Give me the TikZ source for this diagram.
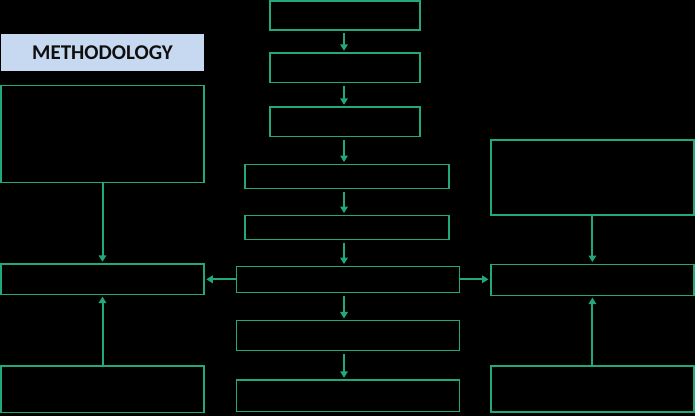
\documentclass[tikz,border=0pt]{standalone}
\usepackage{fontspec}
\setmainfont{Carlito}
\usetikzlibrary{arrows.meta}
\definecolor{flowgreen}{RGB}{34,168,124}
\definecolor{headblue}{RGB}{198,217,240}
\definecolor{headtext}{RGB}{15,15,15}
\tikzset{
  box/.style={draw=flowgreen, line width=1.5pt, rectangle, inner sep=0pt},
  head/.style={fill=headblue, rectangle, inner sep=0pt, text=headtext, font=\fontsize{21}{24}\selectfont\bfseries},
  arr/.style={draw=flowgreen, line width=2pt, -{Triangle[length=6.5pt,width=7.5pt]}, shorten <=2.5pt, shorten >=1.5pt},
}
\begin{document}
\begin{tikzpicture}[x=1pt,y=-1pt]
\fill[black] (0,0) rectangle (695,416);
\useasboundingbox (0,0) rectangle (695,416);
% central column
\node[box, minimum width=150pt, minimum height=29pt] (c1) at (345,15.5) {};
\node[box, minimum width=150pt, minimum height=29.5pt] (c2) at (345,67.8) {};
\node[box, minimum width=150pt, minimum height=29.5pt] (c3) at (345,121.8) {};
\node[box, minimum width=204pt, minimum height=24pt] (c4) at (347,176.3) {};
\node[box, minimum width=204pt, minimum height=24pt] (c5) at (347,227.3) {};
\node[box, minimum width=222.6pt, minimum height=26pt] (c6) at (348,279.3) {};
\node[box, minimum width=222.6pt, minimum height=29.6pt] (c7) at (348,335.5) {};
\node[box, minimum width=223pt, minimum height=31.3pt] (c8) at (348,395.7) {};
% left column
\node[head, minimum width=203pt, minimum height=37pt] (meth) at (102.5,52.7) {METHODOLOGY};
\node[box, minimum width=203pt, minimum height=96.6pt] (l1) at (102.5,134) {};
\node[box, minimum width=203pt, minimum height=30.3pt] (l2) at (102.5,279.2) {};
\node[box, minimum width=203pt, minimum height=46.3pt] (l3) at (102.5,389.2) {};
% right column
\node[box, minimum width=203.3pt, minimum height=75.3pt] (r1) at (592.4,177.4) {};
\node[box, minimum width=203.3pt, minimum height=31pt] (r2) at (592.4,279.8) {};
\node[box, minimum width=203.3pt, minimum height=46pt] (r3) at (592.4,389) {};
% axis for central arrows
\coordinate (ax) at (344,0);
\draw[arr] (c1.south -| ax) -- (c2.north -| ax);
\draw[arr] (c2.south -| ax) -- (c3.north -| ax);
\draw[arr] (c3.south -| ax) -- (c4.north -| ax);
\draw[arr] (c4.south -| ax) -- (c5.north -| ax);
\draw[arr] (c5.south -| ax) -- (c6.north -| ax);
\draw[arr] (c6.south -| ax) -- (c7.north -| ax);
\draw[arr] (c7.south -| ax) -- (c8.north -| ax);
% side arrows
\draw[arr, shorten <=0pt] (c6.west) -- (l2.east |- c6.west);
\draw[arr, shorten <=0pt] (c6.east) -- (r2.west |- c6.east);
\draw[arr, shorten <=0pt] (l1.south) -- (l2.north);
\draw[arr, shorten <=0pt] (l3.north) -- (l2.south);
\draw[arr, shorten <=0pt] (r1.south) -- (r2.north);
\draw[arr, shorten <=0pt] (r3.north) -- (r2.south);
\end{tikzpicture}
\end{document}
